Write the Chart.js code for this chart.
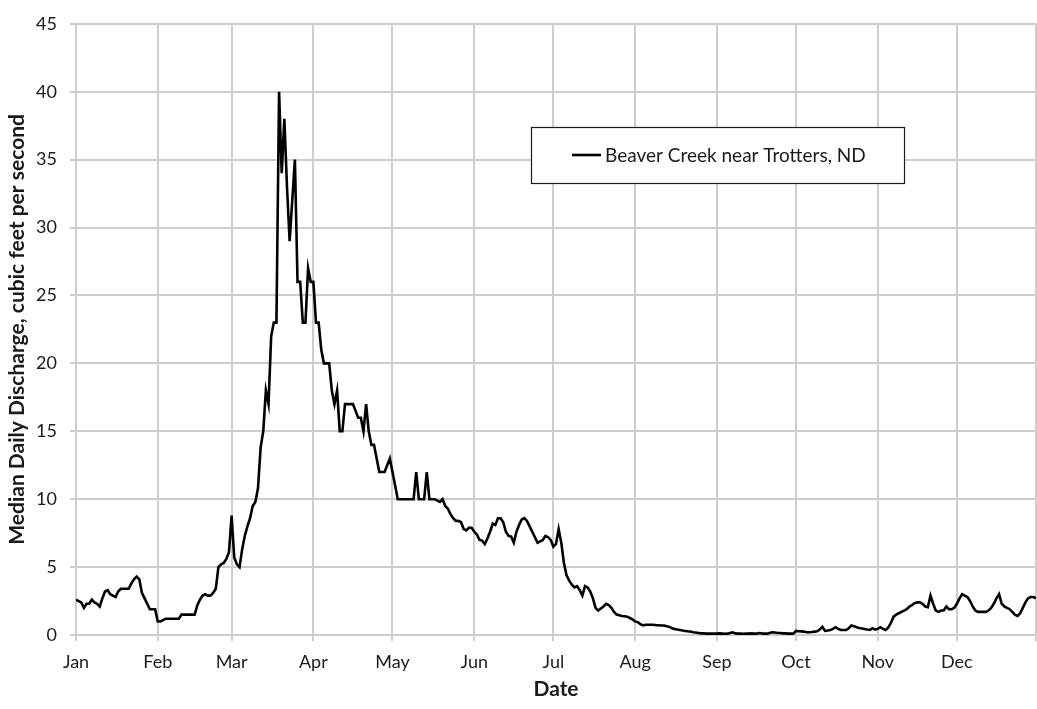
<!DOCTYPE html>
<html>
<head>
<meta charset="utf-8">
<title>Beaver Creek near Trotters, ND — median daily discharge</title>
<script src="https://cdn.jsdelivr.net/npm/chart.js@4.4.1/dist/chart.umd.min.js"></script>
<style>
  html, body { margin: 0; padding: 0; background: #ffffff; }
  #wrap { width: 1037px; height: 709px; }
</style>
</head>
<body>
<div id="wrap"><canvas id="chart" width="1037" height="709"></canvas></div>
<script>
// Month labels and the day-of-year (0 = Jan 1) on which each month starts
const monthNames     = ['Jan', 'Feb', 'Mar', 'Apr', 'May', 'Jun', 'Jul', 'Aug', 'Sep', 'Oct', 'Nov', 'Dec'];
const monthStartDays = [0, 31, 59, 90, 120, 151, 181, 212, 243, 273, 304, 334];
const lastDay = 364;

// Median daily discharge, cubic feet per second, one value per calendar day
const janFlow = [2.6, 2.5, 2.4, 2.0, 2.3, 2.3, 2.6, 2.4, 2.3, 2.1, 2.7, 3.2, 3.3, 3.0, 2.9, 2.8, 3.2, 3.4, 3.4, 3.4, 3.4, 3.8, 4.1, 4.3, 4.1, 3.1, 2.7, 2.3, 1.9, 1.9, 1.9];
const febFlow = [1.0, 1.0, 1.1, 1.2, 1.2, 1.2, 1.2, 1.2, 1.2, 1.5, 1.5, 1.5, 1.5, 1.5, 1.5, 2.2, 2.6, 2.9, 3.0, 2.9, 2.9, 3.1, 3.4, 5.0, 5.2, 5.3, 5.6, 6.1];
const marFlow = [8.8, 5.7, 5.2, 5.0, 6.3, 7.3, 8.0, 8.6, 9.5, 9.8, 10.8, 13.8, 15.0, 18.0, 17.0, 22.0, 23.0, 23.0, 40.0, 34.0, 38.0, 33.0, 29.0, 32.0, 35.0, 26.0, 26.0, 23.0, 23.0, 27.0, 26.0];
const aprFlow = [26, 23, 23, 21, 20, 20, 20, 18, 17, 18, 15, 15, 17, 17, 17, 17, 16.5, 16, 16, 15, 17, 15, 14, 14, 13, 12, 12, 12, 12.5, 13];
const mayFlow = [12, 11, 10, 10, 10, 10, 10, 10, 10, 12, 10, 10, 10, 12, 10, 10, 10, 9.9, 9.8, 10, 9.5, 9.3, 8.9, 8.6, 8.4, 8.4, 8.3, 7.8, 7.7, 7.9, 7.9];
const junFlow = [7.6, 7.4, 7.0, 6.95, 6.7, 7.1, 7.6, 8.2, 8.1, 8.6, 8.6, 8.3, 7.6, 7.3, 7.25, 6.8, 7.6, 8.1, 8.5, 8.6, 8.4, 8.0, 7.6, 7.2, 6.8, 6.9, 7.0, 7.3, 7.2, 7.0];
const julFlow = [6.5, 6.7, 7.8, 6.8, 5.3, 4.4, 4.0, 3.7, 3.5, 3.6, 3.3, 2.9, 3.6, 3.5, 3.2, 2.7, 2.0, 1.8, 1.95, 2.1, 2.3, 2.2, 2.0, 1.7, 1.5, 1.45, 1.4, 1.38, 1.35, 1.25, 1.15];
const augFlow = [1.0, 0.95, 0.8, 0.7, 0.75, 0.75, 0.75, 0.75, 0.72, 0.72, 0.7, 0.7, 0.65, 0.6, 0.5, 0.45, 0.4, 0.37, 0.33, 0.3, 0.27, 0.25, 0.2, 0.18, 0.15, 0.12, 0.12, 0.1, 0.1, 0.1, 0.1];
const sepFlow = [0.1, 0.12, 0.1, 0.08, 0.1, 0.15, 0.2, 0.12, 0.1, 0.1, 0.08, 0.1, 0.1, 0.12, 0.1, 0.1, 0.15, 0.12, 0.1, 0.1, 0.15, 0.2, 0.18, 0.15, 0.15, 0.12, 0.12, 0.1, 0.1, 0.1];
const octFlow = [0.3, 0.28, 0.27, 0.25, 0.2, 0.2, 0.22, 0.25, 0.27, 0.4, 0.6, 0.3, 0.33, 0.37, 0.45, 0.57, 0.45, 0.37, 0.37, 0.37, 0.5, 0.7, 0.65, 0.57, 0.52, 0.48, 0.44, 0.4, 0.37, 0.5, 0.4];
const novFlow = [0.45, 0.57, 0.45, 0.37, 0.55, 0.9, 1.35, 1.5, 1.6, 1.7, 1.8, 1.9, 2.1, 2.2, 2.35, 2.4, 2.4, 2.3, 2.1, 2.05, 2.9, 2.3, 1.8, 1.7, 1.8, 1.8, 2.1, 1.9, 1.9, 2.0];
const decFlow = [2.3, 2.7, 3.0, 2.9, 2.8, 2.5, 2.1, 1.8, 1.7, 1.7, 1.7, 1.7, 1.8, 2.0, 2.3, 2.7, 3.0, 2.3, 2.1, 2.0, 1.9, 1.7, 1.5, 1.4, 1.6, 2.0, 2.4, 2.7, 2.8, 2.8, 2.7];

const yTickValues = [0, 5, 10, 15, 20, 25, 30, 35, 40, 45];
const seriesLabel = 'Beaver Creek near Trotters, ND';

// Join the months into one year-long series indexed by day of year
const dailyFlow = [].concat(janFlow, febFlow, marFlow, aprFlow, mayFlow, junFlow,
                            julFlow, augFlow, sepFlow, octFlow, novFlow, decFlow);
const points = dailyFlow.map((v, day) => ({ x: day, y: v }));

const FONT = 'Lato, "Open Sans", "DejaVu Sans", sans-serif';
const GRID = '#cdcdcd';
const INK = '#1a1a1a';

// Boxed legend drawn inside the plot area
const boxLegend = {
  id: 'boxLegend',
  afterDraw(chart, args, opts) {
    const { ctx } = chart;
    const ds = chart.data.datasets[0];
    const { left, top, width, height } = opts;
    const cy = top + height / 2;
    ctx.save();
    ctx.fillStyle = '#ffffff';
    ctx.fillRect(left, top, width, height);
    ctx.strokeStyle = INK;
    ctx.lineWidth = 1.2;
    ctx.strokeRect(left + 0.5, top + 0.5, width, height);
    ctx.beginPath();
    ctx.moveTo(left + 41, cy);
    ctx.lineTo(left + 70, cy);
    ctx.strokeStyle = ds.borderColor;
    ctx.lineWidth = ds.borderWidth;
    ctx.stroke();
    ctx.fillStyle = INK;
    ctx.font = '19px ' + FONT;
    ctx.textBaseline = 'middle';
    ctx.textAlign = 'left';
    ctx.fillText(ds.label, left + 74, cy + 1);
    ctx.restore();
  }
};

new Chart(document.getElementById('chart'), {
  type: 'line',
  data: {
    datasets: [{
      label: seriesLabel,
      data: points,
      borderColor: '#000000',
      borderWidth: 2.6,
      pointRadius: 0,
      tension: 0,
      fill: false
    }]
  },
  options: {
    responsive: false,
    animation: false,
    devicePixelRatio: 1,
    layout: { padding: { top: 21, right: 1, left: 0, bottom: 0 } },
    plugins: {
      legend: { display: false },
      tooltip: { enabled: false },
      boxLegend: { left: 531, top: 127, width: 373, height: 56 }
    },
    scales: {
      x: {
        type: 'linear',
        min: 0,
        max: lastDay,
        afterBuildTicks: (scale) => {
          scale.ticks = monthStartDays.concat([lastDay]).map(v => ({ value: v }));
        },
        afterFit: (scale) => {
          scale.height = 74;
          scale.paddingRight = 0;   // the closing tick has no label
        },
        ticks: {
          autoSkip: false,
          maxRotation: 0,
          padding: 10,
          color: INK,
          font: { family: FONT, size: 18 },
          callback: (value) => {
            const i = monthStartDays.indexOf(value);
            return i >= 0 ? monthNames[i] : '';
          }
        },
        grid: { color: GRID, lineWidth: 2, tickLength: 6, tickColor: GRID },
        border: { color: GRID, width: 2 },
        title: {
          display: true,
          text: 'Date',
          color: INK,
          font: { family: FONT, size: 21, weight: 'bold' },
          padding: { top: 0, bottom: 7 }
        }
      },
      y: {
        min: 0,
        max: 45,
        afterBuildTicks: (scale) => {
          scale.ticks = yTickValues.map(v => ({ value: v }));
        },
        afterFit: (scale) => { scale.width = 76; },
        ticks: {
          padding: 13,
          color: INK,
          font: { family: FONT, size: 18 }
        },
        grid: { color: GRID, lineWidth: 2, tickLength: 6, tickColor: GRID },
        border: { color: GRID, width: 2 },
        title: {
          display: true,
          text: 'Median Daily Discharge, cubic feet per second',
          color: INK,
          font: { family: FONT, size: 21, weight: 'bold' },
          padding: { top: 5, bottom: 0 }
        }
      }
    }
  },
  plugins: [boxLegend]
});
</script>
</body>
</html>
